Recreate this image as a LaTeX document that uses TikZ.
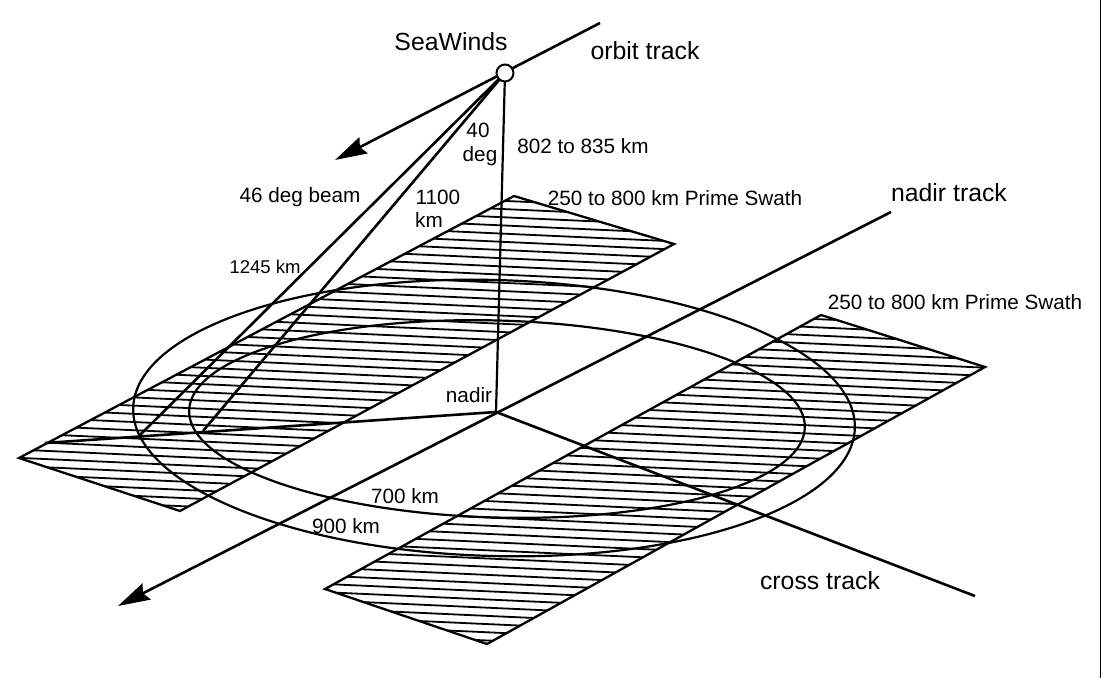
\documentclass[tikz,border=0pt]{standalone}
\usepackage{fontspec}
\setmainfont{Liberation Sans}
\usetikzlibrary{arrows.meta}
\tikzset{
  thickline/.style={line width=2.6pt,black},
  midline/.style={line width=2.2pt,black},
  hatchline/.style={line width=1.8pt,black},
  swathedge/.style={line width=2.3pt,black,line join=miter},
  arrowline/.style={thickline,-{Stealth[length=32pt,width=18pt,inset=4pt]}},
  lbl/.style={inner sep=0pt,font=\fontsize{20.7pt}{22pt}\selectfont},
  lblb/.style={inner sep=0pt,font=\fontsize{24.8pt}{26pt}\selectfont},
  lbls/.style={inner sep=0pt,font=\fontsize{18.5pt}{20pt}\selectfont},
}
\begin{document}
\begin{tikzpicture}[x=1pt,y=-1pt]
\useasboundingbox (0,0) rectangle (1101,678);
% coordinates
\coordinate (nad) at (496,412);
\coordinate (satc) at (505,73);
\coordinate (orbitend) at (600,23);
\coordinate (orbittip) at (335,160);
\coordinate (beamA) at (139,436);
\coordinate (beamB) at (203,431);
\coordinate (nadirtrackend) at (891,212);
\coordinate (nadirtracktip) at (118,606);
\coordinate (crossend) at (975,596);
\coordinate (crossleft) at (45,443);
\coordinate (edgetop) at (1100.4,0);
\coordinate (edgebot) at (1100.4,678);
% left swath
\coordinate (La) at (514,196);
\coordinate (Lb) at (674,244);
\coordinate (Lc) at (180,511);
\coordinate (Ld) at (19,458);
% right swath
\coordinate (Ra) at (821,315);
\coordinate (Rb) at (985,367);
\coordinate (Rc) at (487,644);
\coordinate (Rd) at (325,589);
% hatching
\begin{scope}
  \clip (La) -- (Lb) -- (Lc) -- (Ld) -- cycle;
  \foreach \i in {-3,...,41} {
    \draw[hatchline] (0,{186.4+8.2*\i}) -- (700,{217.9+8.2*\i});
  }
\end{scope}
\begin{scope}
  \clip (Ra) -- (Rb) -- (Rc) -- (Rd) -- cycle;
  \foreach \i in {-36,...,10} {
    \draw[hatchline] (300,{566.45+8.2*\i}) -- (1000,{597.95+8.2*\i});
  }
\end{scope}
\draw[swathedge] (La) -- (Lb) -- (Lc) -- (Ld) -- cycle;
\draw[swathedge] (Ra) -- (Rb) -- (Rc) -- (Rd) -- cycle;
% range circles
\draw[midline,rotate around={-1.6:(494,418)}] (494,418) ellipse [x radius=361,y radius=138];
\draw[midline,rotate around={-1.6:(497,419)}] (497,419) ellipse [x radius=308,y radius=98.5];
% axes
\draw[arrowline] (nadirtrackend) -- (nadirtracktip);
\draw[thickline] (nad) -- (crossend);
\draw[thickline] (nad) -- (crossleft);
\draw[midline] (satc) -- (nad);
\draw[thickline] (satc) -- (beamA);
\draw[thickline] (satc) -- (beamB);
\draw[arrowline] (orbitend) -- (orbittip);
\node[circle,draw=black,fill=white,line width=2pt,minimum size=17pt,inner sep=0pt] (sat) at (satc) {};
\draw[line width=1.2pt,black] (edgetop) -- (edgebot);
% labels
\node[lblb] (tSea) at (451,42) {SeaWinds};
\node[lblb] (tOrb) at (645,51) {orbit track};
\node[lbl] (t40) at (478,130) {40};
\node[lbl] (tdeg) at (480,156) {deg};
\node[lbl] (tAlt) at (583,146) {802 to 835 km};
\node[lbl] (tBeam) at (300,197) {46 deg beam};
\node[lbl] (t1100) at (438,197) {1100};
\node[lbl] (tkm) at (429,220) {km};
\node[lbl] (tS1) at (675,198) {250 to 800 km Prime Swath};
\node[lblb] (tNad) at (949,193) {nadir track};
\node[lbls] (t1245) at (265,267) {1245 km};
\node[lbl] (tS2) at (955,302) {250 to 800 km Prime Swath};
\node[lbl] (tnadir) at (469,395) {nadir};
\node[lbl] (t700) at (405,496) {700 km};
\node[lbl] (t900) at (346,526) {900 km};
\node[lblb] (tCross) at (820,581) {cross track};
\end{tikzpicture}
\end{document}
